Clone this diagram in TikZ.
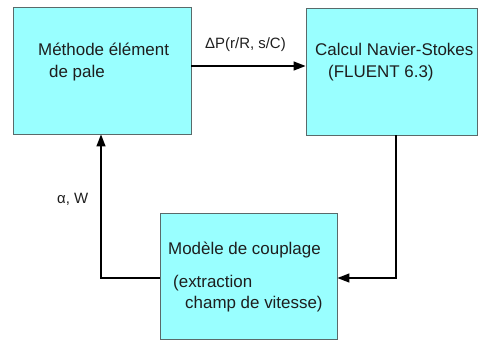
\documentclass[tikz,border=0pt]{standalone}
\usepackage{fontspec}
\setmainfont{Liberation Sans}
\usetikzlibrary{arrows.meta}
\definecolor{boxfill}{HTML}{99FFFF}
\definecolor{boxdraw}{HTML}{5A6A6A}
\definecolor{txt}{HTML}{1E1E1E}
\tikzset{
  blockbox/.style={draw=boxdraw, line width=0.9bp, fill=boxfill, inner sep=0pt},
  btext/.style={anchor=base west, inner sep=0pt, text=txt, font=\fontsize{17}{20}\selectfont},
  ltext/.style={anchor=base west, inner sep=0pt, text=txt, font=\fontsize{15}{18}\selectfont},
  arr/.style={line width=1.4bp, -{Triangle[length=12bp,width=9bp]}}
}
\begin{document}
\begin{tikzpicture}[x=1bp,y=-1bp]
\useasboundingbox (0,0) rectangle (478,340);
\node[blockbox, minimum width=178bp, minimum height=127bp] (b1) at (102,70.5) {};
\node[blockbox, minimum width=171bp, minimum height=127bp] (b2) at (391.5,71.5) {};
\node[blockbox, minimum width=177bp, minimum height=126bp] (b3) at (248.5,276) {};
\node[btext] (t1a) at (38,55) {Méthode élément};
\node[btext] (t1b) at (49,77) {de pale};
\node[btext] (t2a) at (315,55) {Calcul Navier-Stokes};
\node[btext] (t2b) at (328,77) {(FLUENT 6.3)};
\node[btext] (t3a) at (168,254) {Modèle de couplage};
\node[btext] (t3b) at (173,287) {(extraction};
\node[btext] (t3c) at (185,308) {champ de vitesse)};
\node[ltext] (l1) at (205,48) {ΔP(r/R, s/C)};
\node[ltext] (l2) at (57,203) {α, W};
\coordinate (k1) at (0,66);
\coordinate (k2) at (396,278);
\coordinate (k3) at (101,278);
\draw[arr] (b1.east |- k1) -- (b2.west |- k1);
\draw[arr] (b2.south -| k2) |- (b3.east |- k2);
\draw[arr] (b3.west |- k3) -- (k3) -- (b1.south -| k3);
\end{tikzpicture}
\end{document}
